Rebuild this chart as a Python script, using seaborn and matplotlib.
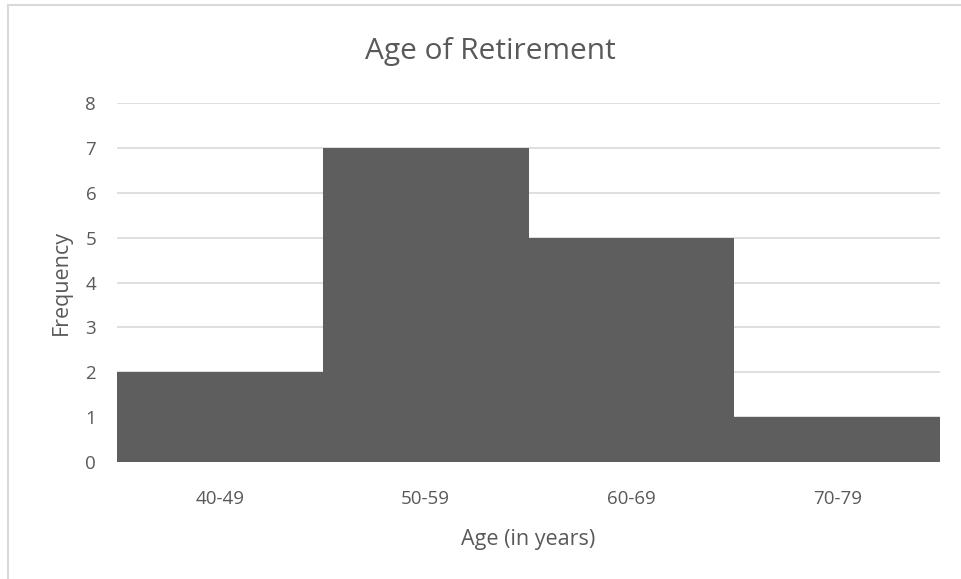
import pandas as pd
import matplotlib.pyplot as plt
import seaborn as sns
from matplotlib.patches import Rectangle

age_groups = ["40-49", "50-59", "60-69", "70-79"]
frequency = [2, 7, 5, 1]
y_ticks = [0, 1, 2, 3, 4, 5, 6, 7, 8]

df = pd.DataFrame({"age": age_groups, "freq": frequency})

sns.set_style("white")
plt.rcParams["font.family"] = ["Open Sans", "DejaVu Sans"]

text_col = "#595959"
fig = plt.figure(figsize=(9.61, 5.79), dpi=100)
ax = fig.add_axes([117 / 961, 1 - 462 / 579, (940 - 117) / 961, (462 - 103) / 579])

sns.barplot(data=df, x="age", y="freq", color="#5e5e5e", saturation=1, width=1.0,
            linewidth=0, ax=ax, zorder=3)

ax.set_ylim(0, 8)
ax.set_xlim(-0.5, 3.5)
ax.set_yticks(y_ticks)
ax.yaxis.grid(True, color="#d9d9d9", linewidth=1.2, zorder=0)
ax.set_axisbelow(True)
for s in ax.spines.values():
    s.set_visible(False)
ax.tick_params(axis="both", length=0, colors=text_col, labelsize=13.5)
ax.tick_params(axis="x", pad=20)
ax.tick_params(axis="y", pad=15)

ax.set_xlabel("Age (in years)", fontsize=15.5, color=text_col, labelpad=15)
ax.set_ylabel("Frequency", fontsize=15.5, color=text_col, labelpad=9.5)
fig.text(490 / 961, 1 - 52 / 579, "Age of Retirement", fontsize=21.5, color=text_col,
         ha="center", va="center")

# outer chart border
fig.patches.append(Rectangle((8 / 961, -0.1), 1.2, 1 - 5 / 579 + 0.1, transform=fig.transFigure,
                             fill=False, edgecolor="#d9d9d9", linewidth=1.5))

fig.savefig("out.png", dpi=100)
